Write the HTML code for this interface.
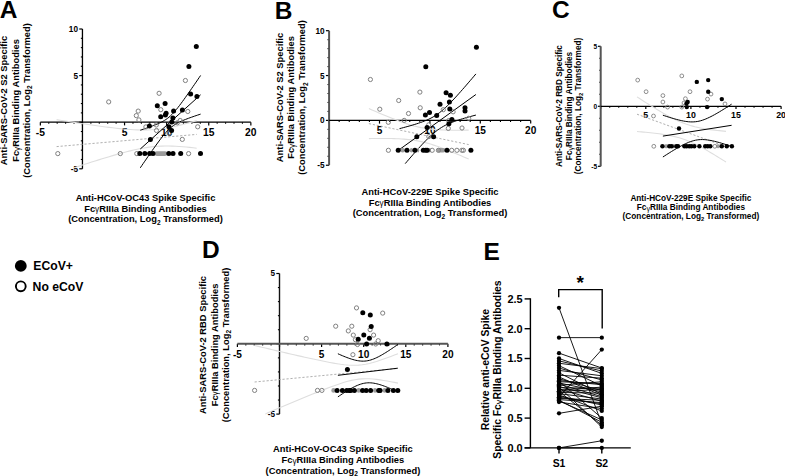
<!DOCTYPE html>
<html><head><meta charset="utf-8"><style>
html,body{margin:0;padding:0;background:#fff;width:785px;height:476px;overflow:hidden;}
svg{display:block;font-family:"Liberation Sans", sans-serif;}
</style></head><body>
<svg width="785" height="476" viewBox="0 0 785 476">
<rect width="785" height="476" fill="#fff"/>
<text x="-0.30" y="17.60" font-size="24.5" font-weight="bold" text-anchor="start" fill="#000" >A</text>
<text x="274.80" y="19.00" font-size="24.5" font-weight="bold" text-anchor="start" fill="#000" >B</text>
<text x="552.00" y="17.60" font-size="24.5" font-weight="bold" text-anchor="start" fill="#000" >C</text>
<text x="202.00" y="258.40" font-size="24.5" font-weight="bold" text-anchor="start" fill="#000" >D</text>
<text x="483.60" y="259.50" font-size="24.5" font-weight="bold" text-anchor="start" fill="#000" >E</text>
<line x1="79.25" y1="168.80" x2="82.45" y2="168.80" stroke="#000" stroke-width="1.2" />
<line x1="80.85" y1="159.48" x2="82.45" y2="159.48" stroke="#000" stroke-width="1.1" />
<line x1="80.85" y1="150.16" x2="82.45" y2="150.16" stroke="#000" stroke-width="1.1" />
<line x1="80.85" y1="140.84" x2="82.45" y2="140.84" stroke="#000" stroke-width="1.1" />
<line x1="80.85" y1="131.52" x2="82.45" y2="131.52" stroke="#000" stroke-width="1.1" />
<line x1="79.25" y1="122.20" x2="82.45" y2="122.20" stroke="#000" stroke-width="1.2" />
<line x1="80.85" y1="112.88" x2="82.45" y2="112.88" stroke="#000" stroke-width="1.1" />
<line x1="80.85" y1="103.56" x2="82.45" y2="103.56" stroke="#000" stroke-width="1.1" />
<line x1="80.85" y1="94.24" x2="82.45" y2="94.24" stroke="#000" stroke-width="1.1" />
<line x1="80.85" y1="84.92" x2="82.45" y2="84.92" stroke="#000" stroke-width="1.1" />
<line x1="79.25" y1="75.60" x2="82.45" y2="75.60" stroke="#000" stroke-width="1.2" />
<line x1="80.85" y1="66.28" x2="82.45" y2="66.28" stroke="#000" stroke-width="1.1" />
<line x1="80.85" y1="56.96" x2="82.45" y2="56.96" stroke="#000" stroke-width="1.1" />
<line x1="80.85" y1="47.64" x2="82.45" y2="47.64" stroke="#000" stroke-width="1.1" />
<line x1="80.85" y1="38.32" x2="82.45" y2="38.32" stroke="#000" stroke-width="1.1" />
<line x1="79.25" y1="29.00" x2="82.45" y2="29.00" stroke="#000" stroke-width="1.2" />
<line x1="40.35" y1="122.20" x2="40.35" y2="125.40" stroke="#000" stroke-width="1.2" />
<line x1="48.77" y1="122.20" x2="48.77" y2="123.80" stroke="#000" stroke-width="1.1" />
<line x1="57.19" y1="122.20" x2="57.19" y2="123.80" stroke="#000" stroke-width="1.1" />
<line x1="65.61" y1="122.20" x2="65.61" y2="123.80" stroke="#000" stroke-width="1.1" />
<line x1="74.03" y1="122.20" x2="74.03" y2="123.80" stroke="#000" stroke-width="1.1" />
<line x1="82.45" y1="122.20" x2="82.45" y2="125.40" stroke="#000" stroke-width="1.2" />
<line x1="90.87" y1="122.20" x2="90.87" y2="123.80" stroke="#000" stroke-width="1.1" />
<line x1="99.29" y1="122.20" x2="99.29" y2="123.80" stroke="#000" stroke-width="1.1" />
<line x1="107.71" y1="122.20" x2="107.71" y2="123.80" stroke="#000" stroke-width="1.1" />
<line x1="116.13" y1="122.20" x2="116.13" y2="123.80" stroke="#000" stroke-width="1.1" />
<line x1="124.55" y1="122.20" x2="124.55" y2="125.40" stroke="#000" stroke-width="1.2" />
<line x1="132.97" y1="122.20" x2="132.97" y2="123.80" stroke="#000" stroke-width="1.1" />
<line x1="141.39" y1="122.20" x2="141.39" y2="123.80" stroke="#000" stroke-width="1.1" />
<line x1="149.81" y1="122.20" x2="149.81" y2="123.80" stroke="#000" stroke-width="1.1" />
<line x1="158.23" y1="122.20" x2="158.23" y2="123.80" stroke="#000" stroke-width="1.1" />
<line x1="166.65" y1="122.20" x2="166.65" y2="125.40" stroke="#000" stroke-width="1.2" />
<line x1="175.07" y1="122.20" x2="175.07" y2="123.80" stroke="#000" stroke-width="1.1" />
<line x1="183.49" y1="122.20" x2="183.49" y2="123.80" stroke="#000" stroke-width="1.1" />
<line x1="191.91" y1="122.20" x2="191.91" y2="123.80" stroke="#000" stroke-width="1.1" />
<line x1="200.33" y1="122.20" x2="200.33" y2="123.80" stroke="#000" stroke-width="1.1" />
<line x1="208.75" y1="122.20" x2="208.75" y2="125.40" stroke="#000" stroke-width="1.2" />
<line x1="217.17" y1="122.20" x2="217.17" y2="123.80" stroke="#000" stroke-width="1.1" />
<line x1="225.59" y1="122.20" x2="225.59" y2="123.80" stroke="#000" stroke-width="1.1" />
<line x1="234.01" y1="122.20" x2="234.01" y2="123.80" stroke="#000" stroke-width="1.1" />
<line x1="242.43" y1="122.20" x2="242.43" y2="123.80" stroke="#000" stroke-width="1.1" />
<line x1="250.85" y1="122.20" x2="250.85" y2="125.40" stroke="#000" stroke-width="1.2" />
<line x1="82.45" y1="29.00" x2="82.45" y2="168.80" stroke="#000" stroke-width="1.3" />
<line x1="40.35" y1="122.20" x2="250.85" y2="122.20" stroke="#000" stroke-width="1.3" />
<text x="77.95" y="31.95" font-size="8.2" font-weight="bold" text-anchor="end" fill="#000" >10</text>
<text x="77.95" y="78.55" font-size="8.2" font-weight="bold" text-anchor="end" fill="#000" >5</text>
<text x="77.95" y="171.75" font-size="8.2" font-weight="bold" text-anchor="end" fill="#000" >-5</text>
<text x="40.35" y="136.21" font-size="10.3" font-weight="bold" text-anchor="middle" fill="#000" >-5</text>
<text x="124.55" y="136.21" font-size="10.3" font-weight="bold" text-anchor="middle" fill="#000" >5</text>
<text x="166.65" y="136.21" font-size="10.3" font-weight="bold" text-anchor="middle" fill="#000" >10</text>
<text x="208.75" y="136.21" font-size="10.3" font-weight="bold" text-anchor="middle" fill="#000" >15</text>
<text x="250.85" y="136.21" font-size="10.3" font-weight="bold" text-anchor="middle" fill="#000" >20</text>
<text x="-100.50" y="7.40" font-size="9.35" font-weight="bold" text-anchor="middle" transform="rotate(-90) translate(0,0)" fill="#000">Anti-SARS-CoV-2 S2 Specific</text>
<text x="-100.50" y="18.90" font-size="9.35" font-weight="bold" text-anchor="middle" transform="rotate(-90) translate(0,0)" fill="#000">Fc<tspan font-weight="normal" font-size="88%" dy="0.8">γ</tspan><tspan dy="-0.8">RIIIa Binding Antibodies</tspan></text>
<text x="-100.50" y="30.10" font-size="9.35" font-weight="bold" text-anchor="middle" transform="rotate(-90) translate(0,0)" fill="#000">(Concentration, Log<tspan font-size="6.54" dy="2.34">2</tspan><tspan dy="-2.34"> Transformed)</tspan></text>
<text x="145.50" y="201.00" font-size="9.35" font-weight="bold" text-anchor="middle" fill="#000" >Anti-HCoV-OC43 Spike Specific</text>
<text x="145.50" y="211.60" font-size="9.35" font-weight="bold" text-anchor="middle" fill="#000" >Fc<tspan font-weight="normal" font-size="88%" dy="0.8">γ</tspan><tspan dy="-0.8">RIIIa Binding Antibodies</tspan></text>
<text x="145.50" y="222.20" font-size="9.35" font-weight="bold" text-anchor="middle" fill="#000" >(Concentration, Log<tspan font-size="6.54" dy="2.34">2</tspan><tspan dy="-2.34"> Transformed)</tspan></text>
<path d="M56.60,146.60 L196.70,134.40" fill="none" stroke="#a6a6a6" stroke-width="0.9" stroke-dasharray="2.2,1.8"/>
<path d="M56.60,119.64 L60.10,120.20 L63.61,120.75 L67.11,121.30 L70.61,121.85 L74.11,122.39 L77.61,122.93 L81.12,123.46 L84.62,123.98 L88.12,124.50 L91.62,125.01 L95.13,125.51 L98.63,126.00 L102.13,126.47 L105.63,126.94 L109.14,127.38 L112.64,127.81 L116.14,128.21 L119.64,128.59 L123.15,128.94 L126.65,129.25 L130.15,129.52 L133.66,129.74 L137.16,129.90 L140.66,130.00 L144.16,130.02 L147.66,129.96 L151.17,129.81 L154.67,129.56 L158.17,129.22 L161.68,128.77 L165.18,128.24 L168.68,127.63 L172.18,126.93 L175.69,126.17 L179.19,125.35 L182.69,124.48 L186.19,123.57 L189.69,122.62 L193.20,121.63 L196.70,120.62" fill="none" stroke="#dedede" stroke-width="1.1" />
<path d="M74.11,167.76 L77.61,166.61 L81.12,165.47 L84.62,164.34 L88.12,163.21 L91.62,162.09 L95.13,160.98 L98.63,159.88 L102.13,158.80 L105.63,157.72 L109.14,156.67 L112.64,155.63 L116.14,154.62 L119.64,153.63 L123.15,152.67 L126.65,151.75 L130.15,150.87 L133.66,150.04 L137.16,149.27 L140.66,148.56 L144.16,147.93 L147.66,147.38 L151.17,146.92 L154.67,146.56 L158.17,146.29 L161.68,146.13 L165.18,146.05 L168.68,146.05 L172.18,146.14 L175.69,146.29 L179.19,146.50 L182.69,146.76 L186.19,147.06 L189.69,147.40 L193.20,147.78 L196.70,148.18" fill="none" stroke="#dedede" stroke-width="1.1" />
<path d="M140.30,149.00 L200.60,94.80" fill="none" stroke="#000" stroke-width="1.0" />
<path d="M140.30,130.20 L141.81,129.70 L143.31,129.19 L144.82,128.68 L146.33,128.16 L147.84,127.64 L149.34,127.10 L150.85,126.55 L152.36,125.99 L153.87,125.42 L155.38,124.82 L156.88,124.20 L158.39,123.55 L159.90,122.86 L161.41,122.12 L162.91,121.32 L164.42,120.45 L165.93,119.49 L167.44,118.42 L168.94,117.22 L170.45,115.89 L171.96,114.43 L173.47,112.84 L174.97,111.13 L176.48,109.33 L177.99,107.45 L179.50,105.50 L181.00,103.49 L182.51,101.45 L184.02,99.37 L185.53,97.27 L187.03,95.14 L188.54,93.00 L190.05,90.84 L191.56,88.67 L193.06,86.49 L194.57,84.30 L196.08,82.11 L197.58,79.91 L199.09,77.70 L200.60,75.48" fill="none" stroke="#000" stroke-width="1.0" />
<path d="M140.30,167.80 L141.81,165.59 L143.31,163.39 L144.82,161.19 L146.33,159.00 L147.84,156.81 L149.34,154.64 L150.85,152.48 L152.36,150.33 L153.87,148.19 L155.38,146.08 L156.88,143.99 L158.39,141.93 L159.90,139.91 L161.41,137.94 L162.91,136.03 L164.42,134.19 L165.93,132.44 L167.44,130.80 L168.94,129.29 L170.45,127.91 L171.96,126.66 L173.47,125.54 L174.97,124.54 L176.48,123.63 L177.99,122.80 L179.50,122.04 L181.00,121.34 L182.51,120.67 L184.02,120.04 L185.53,119.43 L187.03,118.85 L188.54,118.28 L190.05,117.73 L191.56,117.19 L193.06,116.66 L194.57,116.14 L196.08,115.62 L197.58,115.11 L199.09,114.61 L200.60,114.12" fill="none" stroke="#000" stroke-width="1.0" />
<rect x="154.40" y="151.30" width="13.00" height="4.6" rx="2.3" fill="#9c9c9c"/>
<circle cx="108.70" cy="101.90" r="2.1" fill="none" stroke="#808080" stroke-width="1.0"/>
<circle cx="159.10" cy="93.30" r="2.1" fill="none" stroke="#808080" stroke-width="1.0"/>
<circle cx="185.40" cy="80.50" r="2.1" fill="none" stroke="#808080" stroke-width="1.0"/>
<circle cx="138.20" cy="111.10" r="2.1" fill="none" stroke="#808080" stroke-width="1.0"/>
<circle cx="136.30" cy="115.60" r="2.1" fill="none" stroke="#808080" stroke-width="1.0"/>
<circle cx="138.90" cy="119.90" r="2.1" fill="none" stroke="#808080" stroke-width="1.0"/>
<circle cx="145.90" cy="126.90" r="2.1" fill="none" stroke="#808080" stroke-width="1.0"/>
<circle cx="156.30" cy="125.00" r="2.1" fill="none" stroke="#808080" stroke-width="1.0"/>
<circle cx="156.50" cy="130.50" r="2.1" fill="none" stroke="#808080" stroke-width="1.0"/>
<circle cx="160.80" cy="109.70" r="2.1" fill="none" stroke="#808080" stroke-width="1.0"/>
<circle cx="169.20" cy="133.20" r="2.1" fill="none" stroke="#808080" stroke-width="1.0"/>
<circle cx="177.30" cy="122.80" r="2.1" fill="none" stroke="#808080" stroke-width="1.0"/>
<circle cx="180.20" cy="120.50" r="2.1" fill="none" stroke="#808080" stroke-width="1.0"/>
<circle cx="187.80" cy="111.50" r="2.1" fill="none" stroke="#808080" stroke-width="1.0"/>
<circle cx="197.70" cy="126.80" r="2.1" fill="none" stroke="#808080" stroke-width="1.0"/>
<circle cx="182.30" cy="139.40" r="2.1" fill="none" stroke="#808080" stroke-width="1.0"/>
<circle cx="57.80" cy="153.60" r="2.1" fill="none" stroke="#808080" stroke-width="1.0"/>
<circle cx="120.30" cy="153.60" r="2.1" fill="none" stroke="#808080" stroke-width="1.0"/>
<circle cx="136.80" cy="153.60" r="2.1" fill="none" stroke="#808080" stroke-width="1.0"/>
<circle cx="188.60" cy="153.60" r="2.1" fill="none" stroke="#808080" stroke-width="1.0"/>
<circle cx="196.30" cy="46.50" r="2.5" fill="#000"/>
<circle cx="188.90" cy="66.60" r="2.5" fill="#000"/>
<circle cx="190.60" cy="94.10" r="2.5" fill="#000"/>
<circle cx="196.90" cy="96.40" r="2.5" fill="#000"/>
<circle cx="157.30" cy="105.70" r="2.5" fill="#000"/>
<circle cx="165.10" cy="103.60" r="2.5" fill="#000"/>
<circle cx="166.10" cy="113.20" r="2.5" fill="#000"/>
<circle cx="165.40" cy="115.00" r="2.5" fill="#000"/>
<circle cx="160.70" cy="116.80" r="2.5" fill="#000"/>
<circle cx="173.60" cy="111.00" r="2.5" fill="#000"/>
<circle cx="182.40" cy="110.10" r="2.5" fill="#000"/>
<circle cx="172.90" cy="117.90" r="2.5" fill="#000"/>
<circle cx="171.80" cy="121.90" r="2.5" fill="#000"/>
<circle cx="149.40" cy="125.90" r="2.5" fill="#000"/>
<circle cx="168.90" cy="126.80" r="2.5" fill="#000"/>
<circle cx="171.60" cy="130.60" r="2.5" fill="#000"/>
<circle cx="150.40" cy="139.60" r="2.5" fill="#000"/>
<circle cx="139.80" cy="153.60" r="2.5" fill="#000"/>
<circle cx="144.80" cy="153.60" r="2.5" fill="#000"/>
<circle cx="149.60" cy="153.60" r="2.5" fill="#000"/>
<circle cx="153.00" cy="153.60" r="2.5" fill="#000"/>
<circle cx="168.80" cy="153.60" r="2.5" fill="#000"/>
<circle cx="173.00" cy="153.60" r="2.5" fill="#000"/>
<circle cx="180.70" cy="153.60" r="2.5" fill="#000"/>
<circle cx="200.50" cy="153.60" r="2.5" fill="#000"/>
<line x1="325.90" y1="165.25" x2="329.10" y2="165.25" stroke="#000" stroke-width="1.2" />
<line x1="327.50" y1="156.28" x2="329.10" y2="156.28" stroke="#000" stroke-width="1.1" />
<line x1="327.50" y1="147.31" x2="329.10" y2="147.31" stroke="#000" stroke-width="1.1" />
<line x1="327.50" y1="138.34" x2="329.10" y2="138.34" stroke="#000" stroke-width="1.1" />
<line x1="327.50" y1="129.37" x2="329.10" y2="129.37" stroke="#000" stroke-width="1.1" />
<line x1="325.90" y1="120.40" x2="329.10" y2="120.40" stroke="#000" stroke-width="1.2" />
<line x1="327.50" y1="111.43" x2="329.10" y2="111.43" stroke="#000" stroke-width="1.1" />
<line x1="327.50" y1="102.46" x2="329.10" y2="102.46" stroke="#000" stroke-width="1.1" />
<line x1="327.50" y1="93.49" x2="329.10" y2="93.49" stroke="#000" stroke-width="1.1" />
<line x1="327.50" y1="84.52" x2="329.10" y2="84.52" stroke="#000" stroke-width="1.1" />
<line x1="325.90" y1="75.55" x2="329.10" y2="75.55" stroke="#000" stroke-width="1.2" />
<line x1="327.50" y1="66.58" x2="329.10" y2="66.58" stroke="#000" stroke-width="1.1" />
<line x1="327.50" y1="57.61" x2="329.10" y2="57.61" stroke="#000" stroke-width="1.1" />
<line x1="327.50" y1="48.64" x2="329.10" y2="48.64" stroke="#000" stroke-width="1.1" />
<line x1="327.50" y1="39.67" x2="329.10" y2="39.67" stroke="#000" stroke-width="1.1" />
<line x1="325.90" y1="30.70" x2="329.10" y2="30.70" stroke="#000" stroke-width="1.2" />
<line x1="329.10" y1="120.40" x2="329.10" y2="123.60" stroke="#000" stroke-width="1.2" />
<line x1="339.18" y1="120.40" x2="339.18" y2="122.00" stroke="#000" stroke-width="1.1" />
<line x1="349.26" y1="120.40" x2="349.26" y2="122.00" stroke="#000" stroke-width="1.1" />
<line x1="359.34" y1="120.40" x2="359.34" y2="122.00" stroke="#000" stroke-width="1.1" />
<line x1="369.42" y1="120.40" x2="369.42" y2="122.00" stroke="#000" stroke-width="1.1" />
<line x1="379.50" y1="120.40" x2="379.50" y2="123.60" stroke="#000" stroke-width="1.2" />
<line x1="389.58" y1="120.40" x2="389.58" y2="122.00" stroke="#000" stroke-width="1.1" />
<line x1="399.66" y1="120.40" x2="399.66" y2="122.00" stroke="#000" stroke-width="1.1" />
<line x1="409.74" y1="120.40" x2="409.74" y2="122.00" stroke="#000" stroke-width="1.1" />
<line x1="419.82" y1="120.40" x2="419.82" y2="122.00" stroke="#000" stroke-width="1.1" />
<line x1="429.90" y1="120.40" x2="429.90" y2="123.60" stroke="#000" stroke-width="1.2" />
<line x1="439.98" y1="120.40" x2="439.98" y2="122.00" stroke="#000" stroke-width="1.1" />
<line x1="450.06" y1="120.40" x2="450.06" y2="122.00" stroke="#000" stroke-width="1.1" />
<line x1="460.14" y1="120.40" x2="460.14" y2="122.00" stroke="#000" stroke-width="1.1" />
<line x1="470.22" y1="120.40" x2="470.22" y2="122.00" stroke="#000" stroke-width="1.1" />
<line x1="480.30" y1="120.40" x2="480.30" y2="123.60" stroke="#000" stroke-width="1.2" />
<line x1="490.38" y1="120.40" x2="490.38" y2="122.00" stroke="#000" stroke-width="1.1" />
<line x1="500.46" y1="120.40" x2="500.46" y2="122.00" stroke="#000" stroke-width="1.1" />
<line x1="510.54" y1="120.40" x2="510.54" y2="122.00" stroke="#000" stroke-width="1.1" />
<line x1="520.62" y1="120.40" x2="520.62" y2="122.00" stroke="#000" stroke-width="1.1" />
<line x1="530.70" y1="120.40" x2="530.70" y2="123.60" stroke="#000" stroke-width="1.2" />
<line x1="329.10" y1="30.70" x2="329.10" y2="165.25" stroke="#555" stroke-width="2.0" />
<line x1="329.10" y1="120.40" x2="530.70" y2="120.40" stroke="#000" stroke-width="1.3" />
<text x="324.60" y="33.65" font-size="8.2" font-weight="bold" text-anchor="end" fill="#000" >10</text>
<text x="324.60" y="78.50" font-size="8.2" font-weight="bold" text-anchor="end" fill="#000" >5</text>
<text x="324.60" y="123.35" font-size="8.2" font-weight="bold" text-anchor="end" fill="#000" >0</text>
<text x="324.60" y="168.20" font-size="8.2" font-weight="bold" text-anchor="end" fill="#000" >-5</text>
<text x="379.50" y="134.34" font-size="10.1" font-weight="bold" text-anchor="middle" fill="#000" >5</text>
<text x="429.90" y="134.34" font-size="10.1" font-weight="bold" text-anchor="middle" fill="#000" >10</text>
<text x="480.30" y="134.34" font-size="10.1" font-weight="bold" text-anchor="middle" fill="#000" >15</text>
<text x="530.70" y="134.34" font-size="10.1" font-weight="bold" text-anchor="middle" fill="#000" >20</text>
<text x="-97.50" y="282.70" font-size="9.35" font-weight="bold" text-anchor="middle" transform="rotate(-90) translate(0,0)" fill="#000">Anti-SARS-CoV-2 S2 Specific</text>
<text x="-97.50" y="294.00" font-size="9.35" font-weight="bold" text-anchor="middle" transform="rotate(-90) translate(0,0)" fill="#000">Fc<tspan font-weight="normal" font-size="88%" dy="0.8">γ</tspan><tspan dy="-0.8">RIIIa Binding Antibodies</tspan></text>
<text x="-97.50" y="305.20" font-size="9.35" font-weight="bold" text-anchor="middle" transform="rotate(-90) translate(0,0)" fill="#000">(Concentration, Log<tspan font-size="6.54" dy="2.34">2</tspan><tspan dy="-2.34"> Transformed)</tspan></text>
<text x="430.00" y="194.90" font-size="9.35" font-weight="bold" text-anchor="middle" fill="#000" >Anti-HCoV-229E Spike Specific</text>
<text x="430.00" y="205.60" font-size="9.35" font-weight="bold" text-anchor="middle" fill="#000" >Fc<tspan font-weight="normal" font-size="88%" dy="0.8">γ</tspan><tspan dy="-0.8">RIIIa Binding Antibodies</tspan></text>
<text x="430.00" y="216.30" font-size="9.35" font-weight="bold" text-anchor="middle" fill="#000" >(Concentration, Log<tspan font-size="6.54" dy="2.34">2</tspan><tspan dy="-2.34"> Transformed)</tspan></text>
<path d="M368.90,123.60 L468.70,144.60" fill="none" stroke="#a6a6a6" stroke-width="0.9" stroke-dasharray="2.2,1.8"/>
<path d="M368.90,108.58 L371.39,109.68 L373.89,110.77 L376.38,111.85 L378.88,112.92 L381.38,113.98 L383.87,115.03 L386.37,116.07 L388.86,117.10 L391.35,118.10 L393.85,119.09 L396.34,120.06 L398.84,121.00 L401.33,121.91 L403.83,122.78 L406.32,123.62 L408.82,124.42 L411.31,125.17 L413.81,125.87 L416.31,126.51 L418.80,127.09 L421.29,127.62 L423.79,128.08 L426.28,128.49 L428.78,128.84 L431.27,129.14 L433.77,129.39 L436.26,129.60 L438.76,129.77 L441.25,129.91 L443.75,130.02 L446.25,130.10 L448.74,130.16 L451.24,130.20 L453.73,130.23 L456.23,130.24 L458.72,130.24 L461.21,130.23 L463.71,130.20 L466.20,130.17 L468.70,130.13" fill="none" stroke="#dedede" stroke-width="1.1" />
<path d="M368.90,138.62 L371.39,138.57 L373.89,138.53 L376.38,138.50 L378.88,138.48 L381.38,138.47 L383.87,138.47 L386.37,138.48 L388.86,138.50 L391.35,138.55 L393.85,138.61 L396.34,138.69 L398.84,138.80 L401.33,138.94 L403.83,139.12 L406.32,139.33 L408.82,139.58 L411.31,139.88 L413.81,140.23 L416.31,140.64 L418.80,141.11 L421.29,141.63 L423.79,142.22 L426.28,142.86 L428.78,143.56 L431.27,144.31 L433.77,145.11 L436.26,145.95 L438.76,146.83 L441.25,147.74 L443.75,148.68 L446.25,149.65 L448.74,150.64 L451.24,151.65 L453.73,152.67 L456.23,153.71 L458.72,154.76 L461.21,155.82 L463.71,156.90 L466.20,157.98 L468.70,159.07" fill="none" stroke="#dedede" stroke-width="1.1" />
<path d="M399.50,149.50 L475.90,94.50" fill="none" stroke="#000" stroke-width="1.0" />
<path d="M399.50,128.65 L401.41,128.16 L403.32,127.65 L405.23,127.14 L407.14,126.62 L409.05,126.09 L410.96,125.54 L412.87,124.98 L414.78,124.40 L416.69,123.80 L418.60,123.18 L420.51,122.52 L422.42,121.83 L424.33,121.10 L426.24,120.32 L428.15,119.48 L430.06,118.57 L431.97,117.58 L433.88,116.49 L435.79,115.30 L437.70,114.00 L439.61,112.58 L441.52,111.06 L443.43,109.43 L445.34,107.70 L447.25,105.88 L449.16,104.00 L451.07,102.05 L452.98,100.04 L454.89,97.99 L456.80,95.91 L458.71,93.79 L460.62,91.65 L462.53,89.48 L464.44,87.30 L466.35,85.10 L468.26,82.89 L470.17,80.66 L472.08,78.43 L473.99,76.18 L475.90,73.93" fill="none" stroke="#000" stroke-width="1.0" />
<path d="M405.23,163.61 L407.14,161.38 L409.05,159.16 L410.96,156.96 L412.87,154.77 L414.78,152.60 L416.69,150.45 L418.60,148.32 L420.51,146.23 L422.42,144.17 L424.33,142.15 L426.24,140.18 L428.15,138.27 L430.06,136.43 L431.97,134.67 L433.88,133.01 L435.79,131.45 L437.70,130.00 L439.61,128.67 L441.52,127.44 L443.43,126.32 L445.34,125.30 L447.25,124.37 L449.16,123.50 L451.07,122.70 L452.98,121.96 L454.89,121.26 L456.80,120.59 L458.71,119.96 L460.62,119.35 L462.53,118.77 L464.44,118.20 L466.35,117.65 L468.26,117.11 L470.17,116.59 L472.08,116.07 L473.99,115.57 L475.90,115.07" fill="none" stroke="#000" stroke-width="1.0" />
<rect x="400.30" y="148.00" width="4.70" height="4.6" rx="2.3" fill="#9c9c9c"/>
<rect x="409.80" y="148.00" width="3.20" height="4.6" rx="2.3" fill="#9c9c9c"/>
<rect x="417.00" y="148.00" width="2.20" height="4.6" rx="2.3" fill="#9c9c9c"/>
<rect x="428.50" y="148.00" width="2.50" height="4.6" rx="2.3" fill="#9c9c9c"/>
<rect x="436.80" y="148.00" width="8.70" height="4.6" rx="2.3" fill="#9c9c9c"/>
<circle cx="370.40" cy="79.50" r="2.1" fill="none" stroke="#808080" stroke-width="1.0"/>
<circle cx="379.80" cy="109.20" r="2.1" fill="none" stroke="#808080" stroke-width="1.0"/>
<circle cx="398.70" cy="100.50" r="2.1" fill="none" stroke="#808080" stroke-width="1.0"/>
<circle cx="408.50" cy="113.50" r="2.1" fill="none" stroke="#808080" stroke-width="1.0"/>
<circle cx="419.90" cy="92.10" r="2.1" fill="none" stroke="#808080" stroke-width="1.0"/>
<circle cx="420.20" cy="107.80" r="2.1" fill="none" stroke="#808080" stroke-width="1.0"/>
<circle cx="404.20" cy="120.40" r="2.1" fill="none" stroke="#808080" stroke-width="1.0"/>
<circle cx="388.30" cy="122.30" r="2.1" fill="none" stroke="#808080" stroke-width="1.0"/>
<circle cx="428.80" cy="124.80" r="2.1" fill="none" stroke="#808080" stroke-width="1.0"/>
<circle cx="428.80" cy="136.60" r="2.1" fill="none" stroke="#808080" stroke-width="1.0"/>
<circle cx="443.30" cy="109.70" r="2.1" fill="none" stroke="#808080" stroke-width="1.0"/>
<circle cx="453.10" cy="111.80" r="2.1" fill="none" stroke="#808080" stroke-width="1.0"/>
<circle cx="448.30" cy="128.40" r="2.1" fill="none" stroke="#808080" stroke-width="1.0"/>
<circle cx="462.00" cy="128.00" r="2.1" fill="none" stroke="#808080" stroke-width="1.0"/>
<circle cx="448.70" cy="120.60" r="2.1" fill="none" stroke="#808080" stroke-width="1.0"/>
<circle cx="468.70" cy="118.30" r="2.1" fill="none" stroke="#808080" stroke-width="1.0"/>
<circle cx="388.40" cy="150.30" r="2.1" fill="none" stroke="#808080" stroke-width="1.0"/>
<circle cx="432.20" cy="150.30" r="2.1" fill="none" stroke="#808080" stroke-width="1.0"/>
<circle cx="438.40" cy="150.30" r="2.1" fill="none" stroke="#808080" stroke-width="1.0"/>
<circle cx="451.70" cy="150.30" r="2.1" fill="none" stroke="#808080" stroke-width="1.0"/>
<circle cx="456.90" cy="150.30" r="2.1" fill="none" stroke="#808080" stroke-width="1.0"/>
<circle cx="461.90" cy="150.30" r="2.1" fill="none" stroke="#808080" stroke-width="1.0"/>
<circle cx="463.40" cy="150.30" r="2.1" fill="none" stroke="#808080" stroke-width="1.0"/>
<circle cx="476.40" cy="47.30" r="2.5" fill="#000"/>
<circle cx="425.80" cy="66.80" r="2.5" fill="#000"/>
<circle cx="446.10" cy="92.70" r="2.5" fill="#000"/>
<circle cx="450.40" cy="95.20" r="2.5" fill="#000"/>
<circle cx="449.40" cy="102.00" r="2.5" fill="#000"/>
<circle cx="440.00" cy="104.20" r="2.5" fill="#000"/>
<circle cx="449.80" cy="109.00" r="2.5" fill="#000"/>
<circle cx="465.00" cy="107.80" r="2.5" fill="#000"/>
<circle cx="465.00" cy="111.10" r="2.5" fill="#000"/>
<circle cx="429.50" cy="112.60" r="2.5" fill="#000"/>
<circle cx="425.40" cy="114.90" r="2.5" fill="#000"/>
<circle cx="436.70" cy="115.60" r="2.5" fill="#000"/>
<circle cx="451.90" cy="119.60" r="2.5" fill="#000"/>
<circle cx="448.90" cy="123.80" r="2.5" fill="#000"/>
<circle cx="427.10" cy="127.50" r="2.5" fill="#000"/>
<circle cx="416.80" cy="136.70" r="2.5" fill="#000"/>
<circle cx="433.60" cy="136.70" r="2.5" fill="#000"/>
<circle cx="398.20" cy="150.30" r="2.5" fill="#000"/>
<circle cx="407.00" cy="150.30" r="2.5" fill="#000"/>
<circle cx="414.90" cy="150.30" r="2.5" fill="#000"/>
<circle cx="423.30" cy="150.30" r="2.5" fill="#000"/>
<circle cx="425.80" cy="150.30" r="2.5" fill="#000"/>
<circle cx="427.20" cy="150.30" r="2.5" fill="#000"/>
<circle cx="447.00" cy="150.30" r="2.5" fill="#000"/>
<circle cx="470.90" cy="150.30" r="2.5" fill="#000"/>
<line x1="597.90" y1="166.30" x2="600.70" y2="166.30" stroke="#000" stroke-width="1.2" />
<line x1="599.30" y1="154.30" x2="600.70" y2="154.30" stroke="#000" stroke-width="1.1" />
<line x1="599.30" y1="142.30" x2="600.70" y2="142.30" stroke="#000" stroke-width="1.1" />
<line x1="599.30" y1="130.30" x2="600.70" y2="130.30" stroke="#000" stroke-width="1.1" />
<line x1="599.30" y1="118.30" x2="600.70" y2="118.30" stroke="#000" stroke-width="1.1" />
<line x1="597.90" y1="106.30" x2="600.70" y2="106.30" stroke="#000" stroke-width="1.2" />
<line x1="599.30" y1="94.30" x2="600.70" y2="94.30" stroke="#000" stroke-width="1.1" />
<line x1="599.30" y1="82.30" x2="600.70" y2="82.30" stroke="#000" stroke-width="1.1" />
<line x1="599.30" y1="70.30" x2="600.70" y2="70.30" stroke="#000" stroke-width="1.1" />
<line x1="599.30" y1="58.30" x2="600.70" y2="58.30" stroke="#000" stroke-width="1.1" />
<line x1="597.90" y1="46.30" x2="600.70" y2="46.30" stroke="#000" stroke-width="1.2" />
<line x1="600.70" y1="106.30" x2="600.70" y2="109.10" stroke="#000" stroke-width="1.2" />
<line x1="609.72" y1="106.30" x2="609.72" y2="107.70" stroke="#000" stroke-width="1.1" />
<line x1="618.74" y1="106.30" x2="618.74" y2="107.70" stroke="#000" stroke-width="1.1" />
<line x1="627.76" y1="106.30" x2="627.76" y2="107.70" stroke="#000" stroke-width="1.1" />
<line x1="636.78" y1="106.30" x2="636.78" y2="107.70" stroke="#000" stroke-width="1.1" />
<line x1="645.80" y1="106.30" x2="645.80" y2="109.10" stroke="#000" stroke-width="1.2" />
<line x1="654.82" y1="106.30" x2="654.82" y2="107.70" stroke="#000" stroke-width="1.1" />
<line x1="663.84" y1="106.30" x2="663.84" y2="107.70" stroke="#000" stroke-width="1.1" />
<line x1="672.86" y1="106.30" x2="672.86" y2="107.70" stroke="#000" stroke-width="1.1" />
<line x1="681.88" y1="106.30" x2="681.88" y2="107.70" stroke="#000" stroke-width="1.1" />
<line x1="690.90" y1="106.30" x2="690.90" y2="109.10" stroke="#000" stroke-width="1.2" />
<line x1="699.92" y1="106.30" x2="699.92" y2="107.70" stroke="#000" stroke-width="1.1" />
<line x1="708.94" y1="106.30" x2="708.94" y2="107.70" stroke="#000" stroke-width="1.1" />
<line x1="717.96" y1="106.30" x2="717.96" y2="107.70" stroke="#000" stroke-width="1.1" />
<line x1="726.98" y1="106.30" x2="726.98" y2="107.70" stroke="#000" stroke-width="1.1" />
<line x1="736.00" y1="106.30" x2="736.00" y2="109.10" stroke="#000" stroke-width="1.2" />
<line x1="745.02" y1="106.30" x2="745.02" y2="107.70" stroke="#000" stroke-width="1.1" />
<line x1="754.04" y1="106.30" x2="754.04" y2="107.70" stroke="#000" stroke-width="1.1" />
<line x1="763.06" y1="106.30" x2="763.06" y2="107.70" stroke="#000" stroke-width="1.1" />
<line x1="772.08" y1="106.30" x2="772.08" y2="107.70" stroke="#000" stroke-width="1.1" />
<line x1="781.10" y1="106.30" x2="781.10" y2="109.10" stroke="#000" stroke-width="1.2" />
<line x1="600.70" y1="46.30" x2="600.70" y2="166.30" stroke="#555" stroke-width="2.0" />
<line x1="600.70" y1="106.30" x2="781.10" y2="106.30" stroke="#000" stroke-width="1.3" />
<text x="597.10" y="48.68" font-size="6.6" font-weight="bold" text-anchor="end" fill="#000" >5</text>
<text x="597.10" y="108.68" font-size="6.6" font-weight="bold" text-anchor="end" fill="#000" >0</text>
<text x="597.10" y="168.68" font-size="6.6" font-weight="bold" text-anchor="end" fill="#000" >-5</text>
<text x="645.80" y="118.47" font-size="8.8" font-weight="bold" text-anchor="middle" fill="#000" >5</text>
<text x="690.90" y="118.47" font-size="8.8" font-weight="bold" text-anchor="middle" fill="#000" >10</text>
<text x="736.00" y="118.47" font-size="8.8" font-weight="bold" text-anchor="middle" fill="#000" >15</text>
<text x="781.10" y="118.47" font-size="8.8" font-weight="bold" text-anchor="middle" fill="#000" >20</text>
<text x="-106.00" y="562.10" font-size="8.25" font-weight="bold" text-anchor="middle" transform="rotate(-90) translate(0,0)" fill="#000">Anti-SARS-CoV-2 RBD Specific</text>
<text x="-106.00" y="571.80" font-size="8.25" font-weight="bold" text-anchor="middle" transform="rotate(-90) translate(0,0)" fill="#000">Fc<tspan font-weight="normal" font-size="88%" dy="0.8">γ</tspan><tspan dy="-0.8">RIIIa Binding Antibodies</tspan></text>
<text x="-106.00" y="581.30" font-size="8.25" font-weight="bold" text-anchor="middle" transform="rotate(-90) translate(0,0)" fill="#000">(Concentration, Log<tspan font-size="5.77" dy="2.06">2</tspan><tspan dy="-2.06"> Transformed)</tspan></text>
<text x="690.90" y="201.00" font-size="8.25" font-weight="bold" text-anchor="middle" fill="#000" >Anti-HCoV-229E Spike Specific</text>
<text x="690.90" y="210.30" font-size="8.25" font-weight="bold" text-anchor="middle" fill="#000" >Fc<tspan font-weight="normal" font-size="88%" dy="0.8">γ</tspan><tspan dy="-0.8">RIIIa Binding Antibodies</tspan></text>
<text x="690.90" y="219.40" font-size="8.25" font-weight="bold" text-anchor="middle" fill="#000" >(Concentration, Log<tspan font-size="5.77" dy="2.06">2</tspan><tspan dy="-2.06"> Transformed)</tspan></text>
<path d="M637.00,114.20 L726.00,146.70" fill="none" stroke="#a6a6a6" stroke-width="0.9" stroke-dasharray="2.2,1.8"/>
<path d="M637.00,96.88 L639.23,98.32 L641.45,99.76 L643.67,101.18 L645.90,102.60 L648.12,104.01 L650.35,105.40 L652.58,106.79 L654.80,108.15 L657.02,109.51 L659.25,110.84 L661.48,112.15 L663.70,113.44 L665.92,114.70 L668.15,115.93 L670.38,117.12 L672.60,118.27 L674.83,119.38 L677.05,120.43 L679.27,121.43 L681.50,122.37 L683.73,123.25 L685.95,124.07 L688.17,124.82 L690.40,125.52 L692.62,126.15 L694.85,126.73 L697.08,127.25 L699.30,127.73 L701.52,128.17 L703.75,128.57 L705.98,128.94 L708.20,129.29 L710.42,129.60 L712.65,129.90 L714.88,130.17 L717.10,130.43 L719.33,130.67 L721.55,130.90 L723.77,131.12 L726.00,131.33" fill="none" stroke="#dedede" stroke-width="1.1" />
<path d="M637.00,131.52 L639.23,131.70 L641.45,131.89 L643.67,132.09 L645.90,132.30 L648.12,132.52 L650.35,132.75 L652.58,132.99 L654.80,133.25 L657.02,133.52 L659.25,133.81 L661.48,134.12 L663.70,134.46 L665.92,134.83 L668.15,135.22 L670.38,135.66 L672.60,136.13 L674.83,136.65 L677.05,137.22 L679.27,137.84 L681.50,138.53 L683.73,139.27 L685.95,140.08 L688.17,140.95 L690.40,141.88 L692.62,142.88 L694.85,143.92 L697.08,145.02 L699.30,146.17 L701.52,147.35 L703.75,148.57 L705.98,149.83 L708.20,151.11 L710.42,152.42 L712.65,153.75 L714.88,155.10 L717.10,156.47 L719.33,157.85 L721.55,159.25 L723.77,160.65 L726.00,162.07" fill="none" stroke="#dedede" stroke-width="1.1" />
<path d="M662.90,136.10 L731.60,125.30" fill="none" stroke="#000" stroke-width="1.0" />
<path d="M662.90,115.21 L664.62,115.78 L666.34,116.35 L668.05,116.90 L669.77,117.44 L671.49,117.97 L673.20,118.48 L674.92,118.98 L676.64,119.45 L678.36,119.89 L680.08,120.31 L681.79,120.70 L683.51,121.04 L685.23,121.34 L686.94,121.59 L688.66,121.77 L690.38,121.89 L692.10,121.92 L693.82,121.87 L695.53,121.73 L697.25,121.50 L698.97,121.17 L700.68,120.74 L702.40,120.22 L704.12,119.62 L705.84,118.94 L707.56,118.20 L709.27,117.40 L710.99,116.55 L712.71,115.65 L714.42,114.72 L716.14,113.75 L717.86,112.75 L719.58,111.74 L721.30,110.70 L723.01,109.64 L724.73,108.57 L726.45,107.48 L728.16,106.39 L729.88,105.28 L731.60,104.16" fill="none" stroke="#000" stroke-width="1.0" />
<path d="M662.90,156.99 L664.62,155.88 L666.34,154.77 L668.05,153.68 L669.77,152.60 L671.49,151.53 L673.20,150.48 L674.92,149.44 L676.64,148.43 L678.36,147.45 L680.08,146.49 L681.79,145.56 L683.51,144.68 L685.23,143.84 L686.94,143.05 L688.66,142.33 L690.38,141.67 L692.10,141.10 L693.82,140.61 L695.53,140.21 L697.25,139.90 L698.97,139.69 L700.68,139.58 L702.40,139.56 L704.12,139.62 L705.84,139.76 L707.56,139.96 L709.27,140.22 L710.99,140.53 L712.71,140.89 L714.42,141.28 L716.14,141.71 L717.86,142.17 L719.58,142.64 L721.30,143.14 L723.01,143.66 L724.73,144.19 L726.45,144.74 L728.16,145.29 L729.88,145.86 L731.60,146.44" fill="none" stroke="#000" stroke-width="1.0" />
<rect x="663.80" y="144.30" width="4.80" height="4.0" rx="2.0" fill="#9c9c9c"/>
<rect x="672.20" y="144.30" width="3.40" height="4.0" rx="2.0" fill="#9c9c9c"/>
<rect x="716.00" y="144.30" width="4.20" height="4.0" rx="2.0" fill="#9c9c9c"/>
<circle cx="637.70" cy="80.10" r="1.9" fill="none" stroke="#808080" stroke-width="0.9"/>
<circle cx="681.80" cy="75.90" r="1.9" fill="none" stroke="#808080" stroke-width="0.9"/>
<circle cx="646.10" cy="91.70" r="1.9" fill="none" stroke="#808080" stroke-width="0.9"/>
<circle cx="662.90" cy="95.60" r="1.9" fill="none" stroke="#808080" stroke-width="0.9"/>
<circle cx="662.90" cy="102.00" r="1.9" fill="none" stroke="#808080" stroke-width="0.9"/>
<circle cx="667.60" cy="107.10" r="1.9" fill="none" stroke="#808080" stroke-width="0.9"/>
<circle cx="690.00" cy="91.70" r="1.9" fill="none" stroke="#808080" stroke-width="0.9"/>
<circle cx="685.40" cy="98.70" r="1.9" fill="none" stroke="#808080" stroke-width="0.9"/>
<circle cx="684.00" cy="102.90" r="1.9" fill="none" stroke="#808080" stroke-width="0.9"/>
<circle cx="681.80" cy="107.10" r="1.9" fill="none" stroke="#808080" stroke-width="0.9"/>
<circle cx="653.50" cy="116.00" r="1.9" fill="none" stroke="#808080" stroke-width="0.9"/>
<circle cx="711.00" cy="94.10" r="1.9" fill="none" stroke="#808080" stroke-width="0.9"/>
<circle cx="707.50" cy="99.10" r="1.9" fill="none" stroke="#808080" stroke-width="0.9"/>
<circle cx="725.00" cy="103.90" r="1.9" fill="none" stroke="#808080" stroke-width="0.9"/>
<circle cx="653.80" cy="146.30" r="1.9" fill="none" stroke="#808080" stroke-width="0.9"/>
<circle cx="714.80" cy="146.30" r="1.9" fill="none" stroke="#808080" stroke-width="0.9"/>
<circle cx="696.80" cy="81.90" r="2.2" fill="#000"/>
<circle cx="708.20" cy="80.10" r="2.2" fill="#000"/>
<circle cx="708.20" cy="91.70" r="2.2" fill="#000"/>
<circle cx="721.80" cy="99.10" r="2.2" fill="#000"/>
<circle cx="687.70" cy="102.00" r="2.2" fill="#000"/>
<circle cx="686.50" cy="103.40" r="2.2" fill="#000"/>
<circle cx="686.80" cy="107.10" r="2.2" fill="#000"/>
<circle cx="707.10" cy="107.10" r="2.2" fill="#000"/>
<circle cx="679.00" cy="128.50" r="2.2" fill="#000"/>
<circle cx="662.40" cy="146.30" r="2.2" fill="#000"/>
<circle cx="669.40" cy="146.30" r="2.2" fill="#000"/>
<circle cx="671.70" cy="146.30" r="2.2" fill="#000"/>
<circle cx="676.40" cy="146.30" r="2.2" fill="#000"/>
<circle cx="678.00" cy="146.30" r="2.2" fill="#000"/>
<circle cx="684.40" cy="146.30" r="2.2" fill="#000"/>
<circle cx="686.60" cy="146.30" r="2.2" fill="#000"/>
<circle cx="689.20" cy="146.30" r="2.2" fill="#000"/>
<circle cx="691.40" cy="146.30" r="2.2" fill="#000"/>
<circle cx="694.30" cy="146.30" r="2.2" fill="#000"/>
<circle cx="699.40" cy="146.30" r="2.2" fill="#000"/>
<circle cx="705.20" cy="146.30" r="2.2" fill="#000"/>
<circle cx="707.70" cy="146.30" r="2.2" fill="#000"/>
<circle cx="710.30" cy="146.30" r="2.2" fill="#000"/>
<circle cx="721.80" cy="146.30" r="2.2" fill="#000"/>
<circle cx="726.80" cy="146.30" r="2.2" fill="#000"/>
<circle cx="731.90" cy="146.30" r="2.2" fill="#000"/>
<line x1="276.30" y1="414.10" x2="279.50" y2="414.10" stroke="#000" stroke-width="1.2" />
<line x1="277.90" y1="400.04" x2="279.50" y2="400.04" stroke="#000" stroke-width="1.1" />
<line x1="277.90" y1="385.98" x2="279.50" y2="385.98" stroke="#000" stroke-width="1.1" />
<line x1="277.90" y1="371.92" x2="279.50" y2="371.92" stroke="#000" stroke-width="1.1" />
<line x1="277.90" y1="357.86" x2="279.50" y2="357.86" stroke="#000" stroke-width="1.1" />
<line x1="276.30" y1="343.80" x2="279.50" y2="343.80" stroke="#000" stroke-width="1.2" />
<line x1="277.90" y1="329.74" x2="279.50" y2="329.74" stroke="#000" stroke-width="1.1" />
<line x1="277.90" y1="315.68" x2="279.50" y2="315.68" stroke="#000" stroke-width="1.1" />
<line x1="277.90" y1="301.62" x2="279.50" y2="301.62" stroke="#000" stroke-width="1.1" />
<line x1="277.90" y1="287.56" x2="279.50" y2="287.56" stroke="#000" stroke-width="1.1" />
<line x1="276.30" y1="273.50" x2="279.50" y2="273.50" stroke="#000" stroke-width="1.2" />
<line x1="237.40" y1="343.80" x2="237.40" y2="347.00" stroke="#000" stroke-width="1.2" />
<line x1="245.82" y1="343.80" x2="245.82" y2="345.40" stroke="#000" stroke-width="1.1" />
<line x1="254.24" y1="343.80" x2="254.24" y2="345.40" stroke="#000" stroke-width="1.1" />
<line x1="262.66" y1="343.80" x2="262.66" y2="345.40" stroke="#000" stroke-width="1.1" />
<line x1="271.08" y1="343.80" x2="271.08" y2="345.40" stroke="#000" stroke-width="1.1" />
<line x1="279.50" y1="343.80" x2="279.50" y2="347.00" stroke="#000" stroke-width="1.2" />
<line x1="287.92" y1="343.80" x2="287.92" y2="345.40" stroke="#000" stroke-width="1.1" />
<line x1="296.34" y1="343.80" x2="296.34" y2="345.40" stroke="#000" stroke-width="1.1" />
<line x1="304.76" y1="343.80" x2="304.76" y2="345.40" stroke="#000" stroke-width="1.1" />
<line x1="313.18" y1="343.80" x2="313.18" y2="345.40" stroke="#000" stroke-width="1.1" />
<line x1="321.60" y1="343.80" x2="321.60" y2="347.00" stroke="#000" stroke-width="1.2" />
<line x1="330.02" y1="343.80" x2="330.02" y2="345.40" stroke="#000" stroke-width="1.1" />
<line x1="338.44" y1="343.80" x2="338.44" y2="345.40" stroke="#000" stroke-width="1.1" />
<line x1="346.86" y1="343.80" x2="346.86" y2="345.40" stroke="#000" stroke-width="1.1" />
<line x1="355.28" y1="343.80" x2="355.28" y2="345.40" stroke="#000" stroke-width="1.1" />
<line x1="363.70" y1="343.80" x2="363.70" y2="347.00" stroke="#000" stroke-width="1.2" />
<line x1="372.12" y1="343.80" x2="372.12" y2="345.40" stroke="#000" stroke-width="1.1" />
<line x1="380.54" y1="343.80" x2="380.54" y2="345.40" stroke="#000" stroke-width="1.1" />
<line x1="388.96" y1="343.80" x2="388.96" y2="345.40" stroke="#000" stroke-width="1.1" />
<line x1="397.38" y1="343.80" x2="397.38" y2="345.40" stroke="#000" stroke-width="1.1" />
<line x1="405.80" y1="343.80" x2="405.80" y2="347.00" stroke="#000" stroke-width="1.2" />
<line x1="414.22" y1="343.80" x2="414.22" y2="345.40" stroke="#000" stroke-width="1.1" />
<line x1="422.64" y1="343.80" x2="422.64" y2="345.40" stroke="#000" stroke-width="1.1" />
<line x1="431.06" y1="343.80" x2="431.06" y2="345.40" stroke="#000" stroke-width="1.1" />
<line x1="439.48" y1="343.80" x2="439.48" y2="345.40" stroke="#000" stroke-width="1.1" />
<line x1="447.90" y1="343.80" x2="447.90" y2="347.00" stroke="#000" stroke-width="1.2" />
<line x1="279.50" y1="273.50" x2="279.50" y2="414.10" stroke="#111" stroke-width="1.4" />
<line x1="237.40" y1="343.80" x2="447.90" y2="343.80" stroke="#555" stroke-width="2.0" />
<text x="275.00" y="276.45" font-size="8.2" font-weight="bold" text-anchor="end" fill="#000" >5</text>
<text x="275.00" y="417.05" font-size="8.2" font-weight="bold" text-anchor="end" fill="#000" >-5</text>
<text x="237.40" y="357.74" font-size="10.1" font-weight="bold" text-anchor="middle" fill="#000" >-5</text>
<text x="321.60" y="357.74" font-size="10.1" font-weight="bold" text-anchor="middle" fill="#000" >5</text>
<text x="363.70" y="357.74" font-size="10.1" font-weight="bold" text-anchor="middle" fill="#000" >10</text>
<text x="405.80" y="357.74" font-size="10.1" font-weight="bold" text-anchor="middle" fill="#000" >15</text>
<text x="447.90" y="357.74" font-size="10.1" font-weight="bold" text-anchor="middle" fill="#000" >20</text>
<text x="-345.00" y="206.00" font-size="9.35" font-weight="bold" text-anchor="middle" transform="rotate(-90) translate(0,0)" fill="#000">Anti-SARS-CoV-2 RBD Specific</text>
<text x="-345.00" y="217.50" font-size="9.35" font-weight="bold" text-anchor="middle" transform="rotate(-90) translate(0,0)" fill="#000">Fc<tspan font-weight="normal" font-size="88%" dy="0.8">γ</tspan><tspan dy="-0.8">RIIIa Binding Antibodies</tspan></text>
<text x="-345.00" y="228.70" font-size="9.35" font-weight="bold" text-anchor="middle" transform="rotate(-90) translate(0,0)" fill="#000">(Concentration, Log<tspan font-size="6.54" dy="2.34">2</tspan><tspan dy="-2.34"> Transformed)</tspan></text>
<text x="342.90" y="452.30" font-size="9.35" font-weight="bold" text-anchor="middle" fill="#000" >Anti-HCoV-OC43 Spike Specific</text>
<text x="342.90" y="463.00" font-size="9.35" font-weight="bold" text-anchor="middle" fill="#000" >Fc<tspan font-weight="normal" font-size="88%" dy="0.8">γ</tspan><tspan dy="-0.8">RIIIa Binding Antibodies</tspan></text>
<text x="342.90" y="473.50" font-size="9.35" font-weight="bold" text-anchor="middle" fill="#000" >(Concentration, Log<tspan font-size="6.54" dy="2.34">2</tspan><tspan dy="-2.34"> Transformed)</tspan></text>
<path d="M254.60,382.00 L398.00,368.40" fill="none" stroke="#a6a6a6" stroke-width="0.9" stroke-dasharray="2.2,1.8"/>
<path d="M254.60,345.49 L258.19,346.34 L261.77,347.20 L265.36,348.05 L268.94,348.90 L272.52,349.75 L276.11,350.59 L279.69,351.43 L283.28,352.27 L286.87,353.11 L290.45,353.94 L294.03,354.76 L297.62,355.59 L301.20,356.40 L304.79,357.21 L308.38,358.00 L311.96,358.79 L315.55,359.56 L319.13,360.32 L322.71,361.06 L326.30,361.77 L329.88,362.46 L333.47,363.10 L337.06,363.70 L340.64,364.23 L344.23,364.68 L347.81,365.03 L351.39,365.23 L354.98,365.27 L358.56,365.12 L362.15,364.76 L365.74,364.19 L369.32,363.44 L372.90,362.52 L376.49,361.47 L380.07,360.32 L383.66,359.10 L387.25,357.81 L390.83,356.48 L394.41,355.10 L398.00,353.71" fill="none" stroke="#dedede" stroke-width="1.1" />
<path d="M265.36,413.91 L268.94,412.38 L272.52,410.85 L276.11,409.33 L279.69,407.81 L283.28,406.29 L286.87,404.77 L290.45,403.26 L294.03,401.76 L297.62,400.25 L301.20,398.76 L304.79,397.27 L308.38,395.80 L311.96,394.33 L315.55,392.88 L319.13,391.44 L322.71,390.02 L326.30,388.63 L329.88,387.26 L333.47,385.94 L337.06,384.66 L340.64,383.45 L344.23,382.32 L347.81,381.29 L351.39,380.41 L354.98,379.69 L358.56,379.16 L362.15,378.84 L365.74,378.73 L369.32,378.80 L372.90,379.04 L376.49,379.41 L380.07,379.88 L383.66,380.42 L387.25,381.03 L390.83,381.68 L394.41,382.38 L398.00,383.09" fill="none" stroke="#dedede" stroke-width="1.1" />
<path d="M337.90,375.30 L397.80,368.20" fill="none" stroke="#000" stroke-width="1.0" />
<path d="M337.90,353.74 L339.40,354.40 L340.89,355.06 L342.39,355.69 L343.89,356.32 L345.39,356.92 L346.88,357.50 L348.38,358.05 L349.88,358.58 L351.38,359.07 L352.88,359.52 L354.37,359.94 L355.87,360.30 L357.37,360.60 L358.87,360.85 L360.36,361.03 L361.86,361.13 L363.36,361.15 L364.86,361.08 L366.35,360.93 L367.85,360.68 L369.35,360.35 L370.84,359.94 L372.34,359.45 L373.84,358.88 L375.34,358.25 L376.83,357.56 L378.33,356.82 L379.83,356.04 L381.33,355.21 L382.82,354.34 L384.32,353.45 L385.82,352.53 L387.32,351.58 L388.81,350.62 L390.31,349.63 L391.81,348.63 L393.31,347.62 L394.81,346.59 L396.30,345.55 L397.80,344.50" fill="none" stroke="#000" stroke-width="1.0" />
<path d="M337.90,396.86 L339.40,395.84 L340.89,394.83 L342.39,393.84 L343.89,392.86 L345.39,391.91 L346.88,390.97 L348.38,390.06 L349.88,389.18 L351.38,388.34 L352.88,387.53 L354.37,386.76 L355.87,386.04 L357.37,385.38 L358.87,384.78 L360.36,384.25 L361.86,383.79 L363.36,383.42 L364.86,383.13 L366.35,382.93 L367.85,382.82 L369.35,382.79 L370.84,382.85 L372.34,382.99 L373.84,383.20 L375.34,383.47 L376.83,383.81 L378.33,384.19 L379.83,384.62 L381.33,385.10 L382.82,385.61 L384.32,386.14 L385.82,386.71 L387.32,387.30 L388.81,387.91 L390.31,388.54 L391.81,389.19 L393.31,389.85 L394.81,390.52 L396.30,391.20 L397.80,391.90" fill="none" stroke="#000" stroke-width="1.0" />
<rect x="331.30" y="388.10" width="4.50" height="4.6" rx="2.3" fill="#9c9c9c"/>
<rect x="356.60" y="388.10" width="4.20" height="4.6" rx="2.3" fill="#9c9c9c"/>
<rect x="373.00" y="388.10" width="4.00" height="4.6" rx="2.3" fill="#9c9c9c"/>
<rect x="382.60" y="388.10" width="4.00" height="4.6" rx="2.3" fill="#9c9c9c"/>
<circle cx="306.20" cy="338.40" r="2.1" fill="none" stroke="#808080" stroke-width="1.0"/>
<circle cx="335.70" cy="326.20" r="2.1" fill="none" stroke="#808080" stroke-width="1.0"/>
<circle cx="356.50" cy="307.90" r="2.1" fill="none" stroke="#808080" stroke-width="1.0"/>
<circle cx="382.70" cy="313.10" r="2.1" fill="none" stroke="#808080" stroke-width="1.0"/>
<circle cx="351.80" cy="326.20" r="2.1" fill="none" stroke="#808080" stroke-width="1.0"/>
<circle cx="348.30" cy="330.90" r="2.1" fill="none" stroke="#808080" stroke-width="1.0"/>
<circle cx="353.30" cy="335.10" r="2.1" fill="none" stroke="#808080" stroke-width="1.0"/>
<circle cx="370.10" cy="329.70" r="2.1" fill="none" stroke="#808080" stroke-width="1.0"/>
<circle cx="373.60" cy="335.10" r="2.1" fill="none" stroke="#808080" stroke-width="1.0"/>
<circle cx="378.20" cy="340.70" r="2.1" fill="none" stroke="#808080" stroke-width="1.0"/>
<circle cx="355.40" cy="339.70" r="2.1" fill="none" stroke="#808080" stroke-width="1.0"/>
<circle cx="357.50" cy="344.50" r="2.1" fill="none" stroke="#808080" stroke-width="1.0"/>
<circle cx="375.70" cy="344.00" r="2.1" fill="none" stroke="#808080" stroke-width="1.0"/>
<circle cx="352.90" cy="354.70" r="2.1" fill="none" stroke="#808080" stroke-width="1.0"/>
<circle cx="254.60" cy="390.40" r="2.1" fill="none" stroke="#808080" stroke-width="1.0"/>
<circle cx="317.50" cy="390.40" r="2.1" fill="none" stroke="#808080" stroke-width="1.0"/>
<circle cx="321.90" cy="390.40" r="2.1" fill="none" stroke="#808080" stroke-width="1.0"/>
<circle cx="362.80" cy="312.70" r="2.5" fill="#000"/>
<circle cx="370.30" cy="314.90" r="2.5" fill="#000"/>
<circle cx="371.20" cy="326.40" r="2.5" fill="#000"/>
<circle cx="363.80" cy="335.10" r="2.5" fill="#000"/>
<circle cx="369.40" cy="338.30" r="2.5" fill="#000"/>
<circle cx="358.20" cy="339.30" r="2.5" fill="#000"/>
<circle cx="366.60" cy="344.00" r="2.5" fill="#000"/>
<circle cx="386.90" cy="344.00" r="2.5" fill="#000"/>
<circle cx="347.40" cy="369.40" r="2.5" fill="#000"/>
<circle cx="337.10" cy="390.40" r="2.5" fill="#000"/>
<circle cx="342.40" cy="390.40" r="2.5" fill="#000"/>
<circle cx="346.80" cy="390.40" r="2.5" fill="#000"/>
<circle cx="349.30" cy="390.40" r="2.5" fill="#000"/>
<circle cx="350.70" cy="390.40" r="2.5" fill="#000"/>
<circle cx="354.40" cy="390.40" r="2.5" fill="#000"/>
<circle cx="362.50" cy="390.40" r="2.5" fill="#000"/>
<circle cx="366.20" cy="390.40" r="2.5" fill="#000"/>
<circle cx="370.60" cy="390.40" r="2.5" fill="#000"/>
<circle cx="378.70" cy="390.40" r="2.5" fill="#000"/>
<circle cx="380.10" cy="390.40" r="2.5" fill="#000"/>
<circle cx="387.90" cy="390.40" r="2.5" fill="#000"/>
<circle cx="393.40" cy="390.40" r="2.5" fill="#000"/>
<circle cx="397.80" cy="390.40" r="2.5" fill="#000"/>
<circle cx="20.8" cy="265.9" r="5.9" fill="#000"/>
<circle cx="20.8" cy="286.3" r="4.9" fill="none" stroke="#000" stroke-width="1.9"/>
<text x="33.30" y="269.50" font-size="12.2" font-weight="bold" text-anchor="start" fill="#000" >ECoV+</text>
<text x="32.60" y="291.10" font-size="12.2" font-weight="bold" text-anchor="start" fill="#000" >No eCoV</text>
<line x1="530.40" y1="298.30" x2="530.40" y2="447.90" stroke="#000" stroke-width="1.4" />
<line x1="524.60" y1="447.90" x2="630.80" y2="447.90" stroke="#000" stroke-width="1.4" />
<line x1="524.60" y1="447.90" x2="530.40" y2="447.90" stroke="#000" stroke-width="1.4" />
<text x="522.60" y="451.80" font-size="10.9" font-weight="bold" text-anchor="end" fill="#000" >0.0</text>
<line x1="524.60" y1="418.10" x2="530.40" y2="418.10" stroke="#000" stroke-width="1.4" />
<text x="522.60" y="422.00" font-size="10.9" font-weight="bold" text-anchor="end" fill="#000" >0.5</text>
<line x1="524.60" y1="388.30" x2="530.40" y2="388.30" stroke="#000" stroke-width="1.4" />
<text x="522.60" y="392.20" font-size="10.9" font-weight="bold" text-anchor="end" fill="#000" >1.0</text>
<line x1="524.60" y1="358.50" x2="530.40" y2="358.50" stroke="#000" stroke-width="1.4" />
<text x="522.60" y="362.40" font-size="10.9" font-weight="bold" text-anchor="end" fill="#000" >1.5</text>
<line x1="524.60" y1="328.70" x2="530.40" y2="328.70" stroke="#000" stroke-width="1.4" />
<text x="522.60" y="332.60" font-size="10.9" font-weight="bold" text-anchor="end" fill="#000" >2.0</text>
<line x1="524.60" y1="298.90" x2="530.40" y2="298.90" stroke="#000" stroke-width="1.4" />
<text x="522.60" y="302.80" font-size="10.9" font-weight="bold" text-anchor="end" fill="#000" >2.5</text>
<line x1="559.00" y1="447.90" x2="559.00" y2="453.50" stroke="#000" stroke-width="1.4" />
<line x1="601.80" y1="447.90" x2="601.80" y2="453.50" stroke="#000" stroke-width="1.4" />
<text x="559.00" y="466.60" font-size="10.4" font-weight="bold" text-anchor="middle" fill="#000" >S1</text>
<text x="601.80" y="466.60" font-size="10.4" font-weight="bold" text-anchor="middle" fill="#000" >S2</text>
<text x="-369.60" y="489.1" font-size="10.35" font-weight="bold" text-anchor="middle" transform="rotate(-90)">Relative anti-eCoV Spike</text>
<text x="-369.60" y="501.2" font-size="10.35" font-weight="bold" text-anchor="middle" transform="rotate(-90)">Specific Fc<tspan font-weight="normal" font-size="88%" dy="0.8">γ</tspan><tspan dy="-0.8">RIIIa Binding Antibodies</tspan></text>
<path d="M558.70,297.30 L558.70,289.60 L602.20,289.60 L602.20,328.40" fill="none" stroke="#000" stroke-width="1.4" />
<text x="580.20" y="288.60" font-size="19" font-weight="bold" text-anchor="middle" fill="#000" >*</text>
<line x1="559.00" y1="307.84" x2="601.80" y2="424.06" stroke="#000" stroke-width="0.9" />
<line x1="559.00" y1="337.64" x2="601.80" y2="337.64" stroke="#000" stroke-width="0.9" />
<line x1="559.00" y1="353.14" x2="601.80" y2="368.04" stroke="#000" stroke-width="0.9" />
<line x1="559.00" y1="397.24" x2="601.80" y2="349.56" stroke="#000" stroke-width="0.9" />
<line x1="559.00" y1="413.33" x2="601.80" y2="406.18" stroke="#000" stroke-width="0.9" />
<line x1="559.00" y1="447.90" x2="601.80" y2="440.75" stroke="#000" stroke-width="0.9" />
<line x1="559.00" y1="447.90" x2="601.80" y2="447.90" stroke="#000" stroke-width="0.9" />
<line x1="559.00" y1="358.50" x2="601.80" y2="373.40" stroke="#000" stroke-width="0.9" />
<line x1="559.00" y1="360.88" x2="601.80" y2="371.02" stroke="#000" stroke-width="0.9" />
<line x1="559.00" y1="363.27" x2="601.80" y2="368.63" stroke="#000" stroke-width="0.9" />
<line x1="559.00" y1="365.65" x2="601.80" y2="385.92" stroke="#000" stroke-width="0.9" />
<line x1="559.00" y1="368.04" x2="601.80" y2="379.96" stroke="#000" stroke-width="0.9" />
<line x1="559.00" y1="370.42" x2="601.80" y2="375.78" stroke="#000" stroke-width="0.9" />
<line x1="559.00" y1="372.80" x2="601.80" y2="394.26" stroke="#000" stroke-width="0.9" />
<line x1="559.00" y1="375.19" x2="601.80" y2="378.17" stroke="#000" stroke-width="0.9" />
<line x1="559.00" y1="376.98" x2="601.80" y2="395.45" stroke="#000" stroke-width="0.9" />
<line x1="559.00" y1="378.76" x2="601.80" y2="390.68" stroke="#000" stroke-width="0.9" />
<line x1="559.00" y1="380.55" x2="601.80" y2="384.72" stroke="#000" stroke-width="0.9" />
<line x1="559.00" y1="381.74" x2="601.80" y2="383.53" stroke="#000" stroke-width="0.9" />
<line x1="559.00" y1="382.94" x2="601.80" y2="391.88" stroke="#000" stroke-width="0.9" />
<line x1="559.00" y1="384.13" x2="601.80" y2="396.64" stroke="#000" stroke-width="0.9" />
<line x1="559.00" y1="385.32" x2="601.80" y2="381.74" stroke="#000" stroke-width="0.9" />
<line x1="559.00" y1="386.51" x2="601.80" y2="397.84" stroke="#000" stroke-width="0.9" />
<line x1="559.00" y1="387.70" x2="601.80" y2="388.30" stroke="#000" stroke-width="0.9" />
<line x1="559.00" y1="388.90" x2="601.80" y2="401.41" stroke="#000" stroke-width="0.9" />
<line x1="559.00" y1="390.09" x2="601.80" y2="387.11" stroke="#000" stroke-width="0.9" />
<line x1="559.00" y1="391.28" x2="601.80" y2="389.49" stroke="#000" stroke-width="0.9" />
<line x1="559.00" y1="392.47" x2="601.80" y2="393.07" stroke="#000" stroke-width="0.9" />
<line x1="559.00" y1="393.66" x2="601.80" y2="399.03" stroke="#000" stroke-width="0.9" />
<line x1="559.00" y1="394.86" x2="601.80" y2="410.95" stroke="#000" stroke-width="0.9" />
<line x1="559.00" y1="396.05" x2="601.80" y2="404.99" stroke="#000" stroke-width="0.9" />
<line x1="559.00" y1="397.24" x2="601.80" y2="403.80" stroke="#000" stroke-width="0.9" />
<line x1="559.00" y1="398.43" x2="601.80" y2="400.22" stroke="#000" stroke-width="0.9" />
<line x1="559.00" y1="399.62" x2="601.80" y2="402.60" stroke="#000" stroke-width="0.9" />
<line x1="559.00" y1="400.82" x2="601.80" y2="419.89" stroke="#000" stroke-width="0.9" />
<line x1="559.00" y1="402.01" x2="601.80" y2="408.56" stroke="#000" stroke-width="0.9" />
<line x1="559.00" y1="391.28" x2="601.80" y2="425.25" stroke="#000" stroke-width="0.9" />
<line x1="559.00" y1="387.11" x2="601.80" y2="427.04" stroke="#000" stroke-width="0.9" />
<line x1="559.00" y1="400.22" x2="601.80" y2="422.27" stroke="#000" stroke-width="0.9" />
<line x1="559.00" y1="381.15" x2="601.80" y2="418.10" stroke="#000" stroke-width="0.9" />
<circle cx="559.00" cy="307.84" r="2.15" fill="#000"/>
<circle cx="601.80" cy="424.06" r="2.15" fill="#000"/>
<circle cx="559.00" cy="337.64" r="2.15" fill="#000"/>
<circle cx="601.80" cy="337.64" r="2.15" fill="#000"/>
<circle cx="559.00" cy="353.14" r="2.15" fill="#000"/>
<circle cx="601.80" cy="368.04" r="2.15" fill="#000"/>
<circle cx="559.00" cy="397.24" r="2.15" fill="#000"/>
<circle cx="601.80" cy="349.56" r="2.15" fill="#000"/>
<circle cx="559.00" cy="413.33" r="2.15" fill="#000"/>
<circle cx="601.80" cy="406.18" r="2.15" fill="#000"/>
<circle cx="559.00" cy="447.90" r="2.15" fill="#000"/>
<circle cx="601.80" cy="440.75" r="2.15" fill="#000"/>
<circle cx="559.00" cy="447.90" r="2.15" fill="#000"/>
<circle cx="601.80" cy="447.90" r="2.15" fill="#000"/>
<circle cx="559.00" cy="358.50" r="2.15" fill="#000"/>
<circle cx="601.80" cy="373.40" r="2.15" fill="#000"/>
<circle cx="559.00" cy="360.88" r="2.15" fill="#000"/>
<circle cx="601.80" cy="371.02" r="2.15" fill="#000"/>
<circle cx="559.00" cy="363.27" r="2.15" fill="#000"/>
<circle cx="601.80" cy="368.63" r="2.15" fill="#000"/>
<circle cx="559.00" cy="365.65" r="2.15" fill="#000"/>
<circle cx="601.80" cy="385.92" r="2.15" fill="#000"/>
<circle cx="559.00" cy="368.04" r="2.15" fill="#000"/>
<circle cx="601.80" cy="379.96" r="2.15" fill="#000"/>
<circle cx="559.00" cy="370.42" r="2.15" fill="#000"/>
<circle cx="601.80" cy="375.78" r="2.15" fill="#000"/>
<circle cx="559.00" cy="372.80" r="2.15" fill="#000"/>
<circle cx="601.80" cy="394.26" r="2.15" fill="#000"/>
<circle cx="559.00" cy="375.19" r="2.15" fill="#000"/>
<circle cx="601.80" cy="378.17" r="2.15" fill="#000"/>
<circle cx="559.00" cy="376.98" r="2.15" fill="#000"/>
<circle cx="601.80" cy="395.45" r="2.15" fill="#000"/>
<circle cx="559.00" cy="378.76" r="2.15" fill="#000"/>
<circle cx="601.80" cy="390.68" r="2.15" fill="#000"/>
<circle cx="559.00" cy="380.55" r="2.15" fill="#000"/>
<circle cx="601.80" cy="384.72" r="2.15" fill="#000"/>
<circle cx="559.00" cy="381.74" r="2.15" fill="#000"/>
<circle cx="601.80" cy="383.53" r="2.15" fill="#000"/>
<circle cx="559.00" cy="382.94" r="2.15" fill="#000"/>
<circle cx="601.80" cy="391.88" r="2.15" fill="#000"/>
<circle cx="559.00" cy="384.13" r="2.15" fill="#000"/>
<circle cx="601.80" cy="396.64" r="2.15" fill="#000"/>
<circle cx="559.00" cy="385.32" r="2.15" fill="#000"/>
<circle cx="601.80" cy="381.74" r="2.15" fill="#000"/>
<circle cx="559.00" cy="386.51" r="2.15" fill="#000"/>
<circle cx="601.80" cy="397.84" r="2.15" fill="#000"/>
<circle cx="559.00" cy="387.70" r="2.15" fill="#000"/>
<circle cx="601.80" cy="388.30" r="2.15" fill="#000"/>
<circle cx="559.00" cy="388.90" r="2.15" fill="#000"/>
<circle cx="601.80" cy="401.41" r="2.15" fill="#000"/>
<circle cx="559.00" cy="390.09" r="2.15" fill="#000"/>
<circle cx="601.80" cy="387.11" r="2.15" fill="#000"/>
<circle cx="559.00" cy="391.28" r="2.15" fill="#000"/>
<circle cx="601.80" cy="389.49" r="2.15" fill="#000"/>
<circle cx="559.00" cy="392.47" r="2.15" fill="#000"/>
<circle cx="601.80" cy="393.07" r="2.15" fill="#000"/>
<circle cx="559.00" cy="393.66" r="2.15" fill="#000"/>
<circle cx="601.80" cy="399.03" r="2.15" fill="#000"/>
<circle cx="559.00" cy="394.86" r="2.15" fill="#000"/>
<circle cx="601.80" cy="410.95" r="2.15" fill="#000"/>
<circle cx="559.00" cy="396.05" r="2.15" fill="#000"/>
<circle cx="601.80" cy="404.99" r="2.15" fill="#000"/>
<circle cx="559.00" cy="397.24" r="2.15" fill="#000"/>
<circle cx="601.80" cy="403.80" r="2.15" fill="#000"/>
<circle cx="559.00" cy="398.43" r="2.15" fill="#000"/>
<circle cx="601.80" cy="400.22" r="2.15" fill="#000"/>
<circle cx="559.00" cy="399.62" r="2.15" fill="#000"/>
<circle cx="601.80" cy="402.60" r="2.15" fill="#000"/>
<circle cx="559.00" cy="400.82" r="2.15" fill="#000"/>
<circle cx="601.80" cy="419.89" r="2.15" fill="#000"/>
<circle cx="559.00" cy="402.01" r="2.15" fill="#000"/>
<circle cx="601.80" cy="408.56" r="2.15" fill="#000"/>
<circle cx="559.00" cy="391.28" r="2.15" fill="#000"/>
<circle cx="601.80" cy="425.25" r="2.15" fill="#000"/>
<circle cx="559.00" cy="387.11" r="2.15" fill="#000"/>
<circle cx="601.80" cy="427.04" r="2.15" fill="#000"/>
<circle cx="559.00" cy="400.22" r="2.15" fill="#000"/>
<circle cx="601.80" cy="422.27" r="2.15" fill="#000"/>
<circle cx="559.00" cy="381.15" r="2.15" fill="#000"/>
<circle cx="601.80" cy="418.10" r="2.15" fill="#000"/>
</svg>
</body></html>
